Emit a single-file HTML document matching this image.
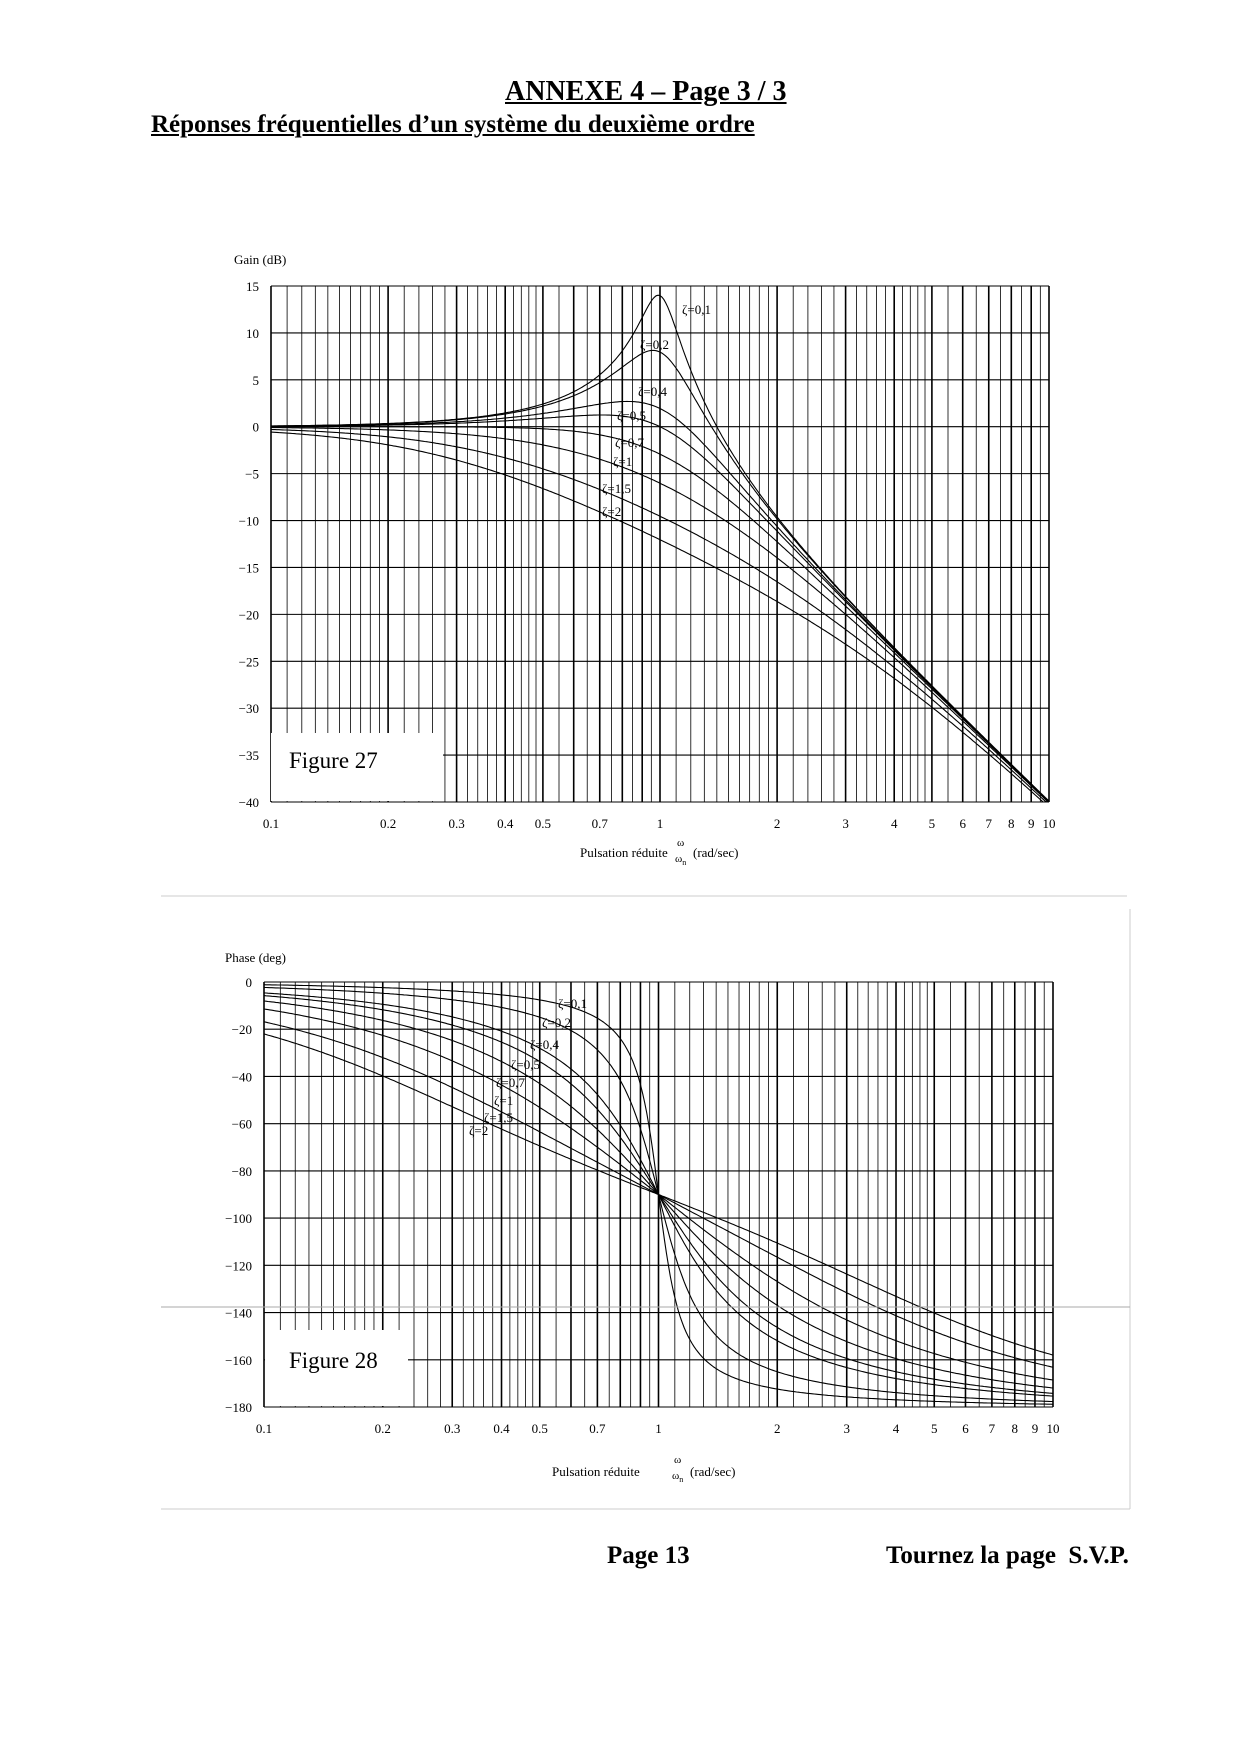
<!DOCTYPE html>
<html><head><meta charset="utf-8"><style>
html,body{margin:0;padding:0;background:#fff;}
body{width:1240px;height:1754px;position:relative;overflow:hidden;font-family:"Liberation Serif",serif;}
.t{position:absolute;white-space:nowrap;color:#000;}
</style></head><body>
<div class="t" style="left:505px;top:76px;font-size:28px;font-weight:bold;text-decoration:underline;">ANNEXE 4 – Page 3 / 3</div>
<div class="t" style="left:151px;top:111px;font-size:25px;font-weight:bold;text-decoration:underline;">Réponses fréquentielles d’un système du deuxième ordre</div>
<div class="t" style="left:607px;top:1542px;font-size:25px;font-weight:bold;">Page 13</div>
<div class="t" style="left:886px;top:1542px;font-size:25px;font-weight:bold;">Tournez la page&nbsp; S.V.P.</div>
<svg id="s" width="1240" height="1754" style="position:absolute;left:0;top:0" font-family="Liberation Serif, serif">
<line x1="161" y1="896" x2="1127" y2="896" stroke="#ccc"/>
<line x1="1130" y1="909" x2="1130" y2="1509" stroke="#ccc"/>
<line x1="161" y1="1509" x2="1130" y2="1509" stroke="#ccc"/>
<g id="g1"></g><g id="g2"></g>
<line x1="161" y1="1307" x2="1130" y2="1307" stroke="#aaa"/>
<rect x="271" y="733" width="172" height="68" fill="#fff"/>
<text x="289" y="768" font-size="23">Figure 27</text>
<rect x="265" y="1330" width="143" height="76" fill="#fff"/>
<text x="289" y="1368" font-size="23">Figure 28</text>
<text x="234" y="264" font-size="13">Gain (dB)</text>
<text x="225" y="962" font-size="13">Phase (deg)</text>
<g font-size="13">
<text x="580" y="857">Pulsation réduite</text><text x="677" y="846" font-size="11">ω</text><text x="675" y="862" font-size="11">ω<tspan font-size="8" dy="3">n</tspan></text><text x="693" y="857">(rad/sec)</text>
<text x="552" y="1476">Pulsation réduite</text><text x="674" y="1463" font-size="11">ω</text><text x="672" y="1479" font-size="11">ω<tspan font-size="8" dy="3">n</tspan></text><text x="690" y="1476">(rad/sec)</text>
</g>
<g font-size="13">
<text x="682" y="314">ζ=0,1</text><text x="640" y="349">ζ=0,2</text><text x="638" y="396">ζ=0,4</text><text x="617" y="420">ζ=0,5</text><text x="615" y="447">ζ=0,7</text><text x="613" y="466">ζ=1</text><text x="602" y="493">ζ=1,5</text><text x="602" y="516">ζ=2</text>
<text x="558" y="1008">ζ=0,1</text><text x="542" y="1027">ζ=0,2</text><text x="530" y="1049">ζ=0,4</text><text x="511" y="1069">ζ=0,5</text><text x="496" y="1087">ζ=0,7</text><text x="494" y="1105">ζ=1</text><text x="484" y="1122">ζ=1,5</text><text x="469" y="1135">ζ=2</text>
</g>
</svg>
<script>
var NS="http://www.w3.org/2000/svg";
function el(p,n,a,txt){var e=document.createElementNS(NS,n);for(var k in a)e.setAttribute(k,a[k]);if(txt!==undefined)e.textContent=txt;p.appendChild(e);return e;}
var Z=[0.1,0.2,0.4,0.5,0.7,1,1.5,2];
function chart(gid,x0,x1,y0,y1,vmax,vmin,step,fn,ticks){
 var g=document.getElementById(gid);
 function X(u){return x0+(Math.log10(u)+1)/2*(x1-x0);}
 function Y(v){return y0+(vmax-v)/(vmax-vmin)*(y1-y0);}
 var ms=[];for(var m=1;m<2;m+=0.1)ms.push(m);for(m=2;m<5;m+=0.2)ms.push(m);for(m=5;m<10;m+=0.5)ms.push(m);
 [0.1,1].forEach(function(d){ms.forEach(function(m){var u=d*m;var x=X(u);var major=Math.abs(m-Math.round(m))<1e-6;
  el(g,"line",{x1:x,y1:y0,x2:x,y2:y1,stroke:"#000","stroke-width":major?1.6:0.8});});});
 el(g,"line",{x1:x1,y1:y0,x2:x1,y2:y1,stroke:"#000","stroke-width":1.6});
 for(var v=vmax;v>=vmin-1e-6;v-=step){var y=Y(v);el(g,"line",{x1:x0,y1:y,x2:x1,y2:y,stroke:"#000","stroke-width":1.1});
  el(g,"text",{x:x0-12,y:y+5,"font-size":13,"text-anchor":"end"},(v<0?"−":"")+Math.abs(v));}
 Z.forEach(function(z){var d="";for(var i=0;i<=400;i++){var u=Math.pow(10,-1+2*i/400);var v=fn(u,z);if(v<vmin)v=vmin;if(v>vmax)v=vmax;d+=(i?"L":"M")+X(u).toFixed(1)+","+Y(v).toFixed(1);}
  el(g,"path",{d:d,fill:"none",stroke:"#000","stroke-width":1.1});});
 ticks.forEach(function(t){el(g,"text",{x:X(t[0]),y:y1+26,"font-size":13,"text-anchor":"middle"},t[1]);});
}
var tk=[[0.1,"0.1"],[0.2,"0.2"],[0.3,"0.3"],[0.4,"0.4"],[0.5,"0.5"],[0.7,"0.7"],[1,"1"],[2,"2"],[3,"3"],[4,"4"],[5,"5"],[6,"6"],[7,"7"],[8,"8"],[9,"9"],[10,"10"]];
chart("g1",271,1049,286,802,15,-40,5,function(u,z){return -10*Math.log10(Math.pow(1-u*u,2)+Math.pow(2*z*u,2));},tk);
chart("g2",264,1053,982,1407,0,-180,20,function(u,z){return -Math.atan2(2*z*u,1-u*u)*180/Math.PI;},tk);
</script>
</body></html>
